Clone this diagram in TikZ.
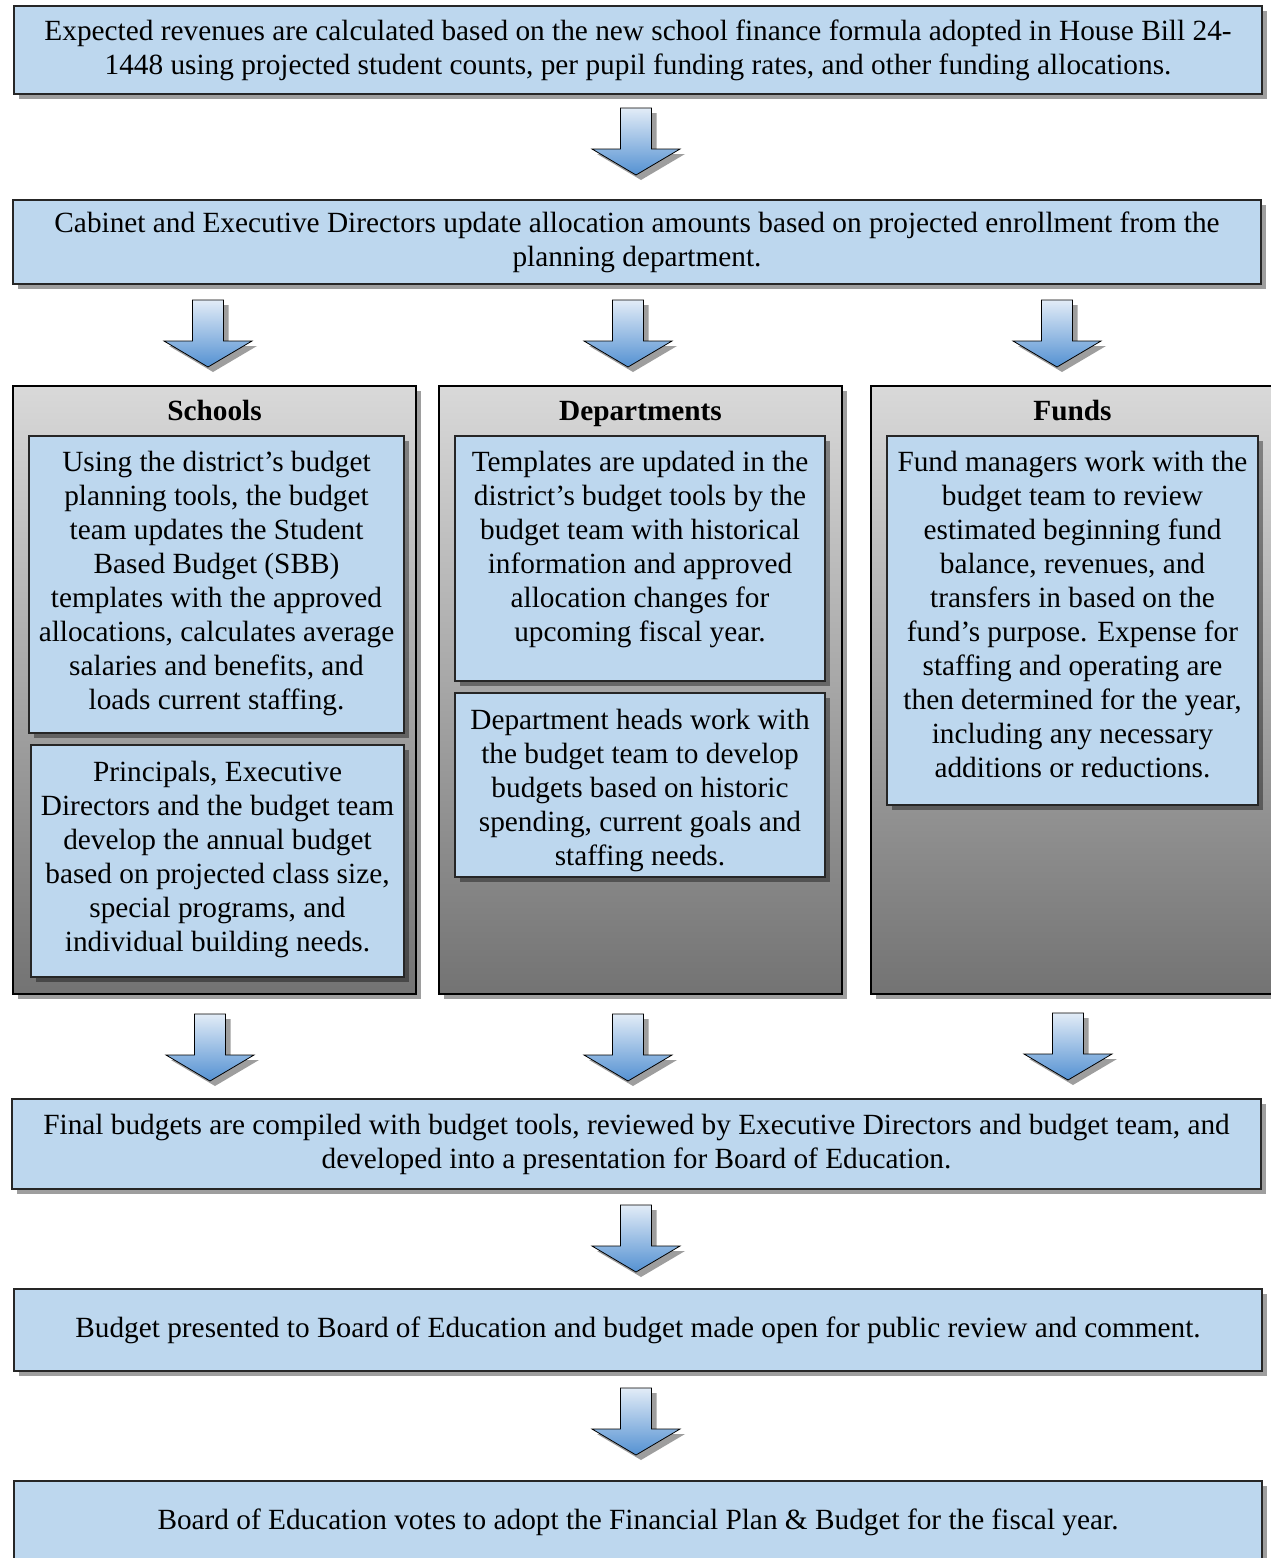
\documentclass[tikz,border=0pt]{standalone}
\usepackage{fontspec}
\setmainfont{Liberation Serif}
\usetikzlibrary{positioning,shadows}

\definecolor{boxblue}{RGB}{189,215,238}
\definecolor{arrowtop}{RGB}{226,236,247}
\definecolor{arrowbot}{RGB}{84,145,210}
\definecolor{coltop}{RGB}{217,217,217}
\definecolor{colbot}{RGB}{115,115,115}

\tikzset{
  every node/.style={font=\fontsize{29.3}{34}\selectfont},
  shade/.style={drop shadow={shadow xshift=5pt, shadow yshift=-5pt, fill=black, opacity=0.38}},
  stepbox/.style={draw=black!85, line width=1.2pt, fill=boxblue, align=center,
    inner sep=0pt, minimum width=1248pt, shade},
  column/.style={draw=black, line width=1.2pt, top color=coltop, bottom color=colbot,
    inner sep=0pt, minimum width=403pt, minimum height=608pt, shade},
  cell/.style={draw=black!85, line width=1.2pt, fill=boxblue, inner sep=0pt, shade},
  celltext/.style={align=center, inner sep=0pt},
  heading/.style={inner sep=0pt, anchor=base, font=\fontsize{29.3}{34}\selectfont\bfseries},
  arrowfill/.style={draw=black, line width=0.8pt, top color=arrowtop, bottom color=arrowbot, shade},
  blockarrow/.pic={
    \path[arrowfill] (-15.5,0) -- (15.5,0) -- (15.5,41) -- (44,41) -- (0,67)
      -- (-44,41) -- (-15.5,41) -- cycle;
  }
}

\begin{document}
\begin{tikzpicture}[x=1pt,y=-1pt]
\useasboundingbox (0,0) rectangle (1270,1558);

% top of the process
\node[stepbox, minimum height=88pt] (revenue) at (638,50)
  {Expected revenues are calculated based on the new school finance formula adopted in House Bill 24-\\
   1448 using projected student counts, per pupil funding rates, and other funding allocations.};
\pic (ar1) at (636,108) {blockarrow};
\node[stepbox, minimum height=84pt] (cabinet) at (637,242)
  {Cabinet and Executive Directors update allocation amounts based on projected enrollment from the\\
   planning department.};
\pic (ar2) at (208,300) {blockarrow};
\pic (ar3) at (628,300) {blockarrow};
\pic (ar4) at (1057,300) {blockarrow};

% the three columns
\node[column] (schools) at (214.5,690) {};
\node[column] (depts) at (640.5,690) {};
\node[column] (funds) at (1072.5,690) {};
\node[heading] (schoolshead) at ([yshift=-35pt]schools.north) {Schools};
\node[heading] (deptshead) at ([yshift=-35pt]depts.north) {Departments};
\node[heading] (fundshead) at ([yshift=-35pt]funds.north) {Funds};

\node[cell, minimum width=375pt, minimum height=297pt] (schA) at (216.5,584.5) {};
\node[celltext, below=16pt of schA.north] (schAtext)
  {Using the district’s budget\\planning tools, the budget\\team updates the Student\\Based Budget (SBB)\\
   templates with the approved\\allocations, calculates average\\salaries and benefits, and\\loads current staffing.};
\node[cell, minimum width=373pt, minimum height=232pt] (schB) at (217.5,861) {};
\node[celltext, below=17pt of schB.north] (schBtext)
  {Principals, Executive\\Directors and the budget team\\develop the annual budget\\based on projected class size,\\
   special programs, and\\individual building needs.};

\node[cell, minimum width=370pt, minimum height=245pt] (depA) at (640,558.5) {};
\node[celltext, below=16pt of depA.north] (depAtext)
  {Templates are updated in the\\district’s budget tools by the\\budget team with historical\\information and approved\\
   allocation changes for\\upcoming fiscal year.};
\node[cell, minimum width=370pt, minimum height=184pt] (depB) at (640,785) {};
\node[celltext, below=17pt of depB.north] (depBtext)
  {Department heads work with\\the budget team to develop\\budgets based on historic\\spending, current goals and\\staffing needs.};

\node[cell, minimum width=371pt, minimum height=369pt] (fundA) at (1072.5,620.5) {};
\node[celltext, below=16pt of fundA.north] (fundAtext)
  {Fund managers work with the\\budget team to review\\estimated beginning fund\\balance, revenues, and\\
   transfers in based on the\\fund’s purpose. Expense for\\staffing and operating are\\then determined for the year,\\
   including any necessary\\additions or reductions.};

% bottom of the process
\pic (ar5) at (210,1014) {blockarrow};
\pic (ar6) at (628,1014) {blockarrow};
\pic (ar7) at (1068,1013) {blockarrow};
\node[stepbox, minimum width=1249pt, minimum height=90pt] (final) at (636.5,1144)
  {Final budgets are compiled with budget tools, reviewed by Executive Directors and budget team, and\\
   developed into a presentation for Board of Education.};
\pic (ar8) at (636,1205) {blockarrow};
\node[stepbox, minimum height=82pt] (present) at (638,1330)
  {Budget presented to Board of Education and budget made open for public review and comment.};
\pic (ar9) at (636,1388) {blockarrow};
\node[stepbox, minimum height=82pt] (adopt) at (638,1522)
  {Board of Education votes to adopt the Financial Plan \& Budget for the fiscal year.};
\end{tikzpicture}
\end{document}
